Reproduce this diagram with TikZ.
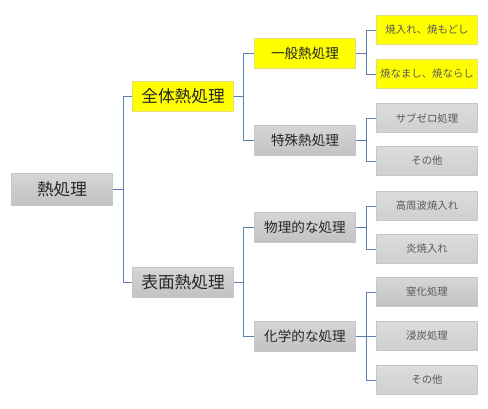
\documentclass[tikz,border=0pt]{standalone}
\usepackage{fontspec}
\setmainfont{Noto Sans CJK JP}
\definecolor{lineblue}{HTML}{5B7FB5}
\definecolor{greytop}{HTML}{D6D6D6}
\definecolor{greybot}{HTML}{C2C2C2}
\definecolor{leaftop}{HTML}{DCDCDC}
\definecolor{leafbot}{HTML}{CFCFCF}
\definecolor{hlyellow}{HTML}{FFFF00}
\tikzset{
  box/.style={minimum width=76pt, minimum height=22.5pt, inner sep=0pt,
    draw=black!22, line width=0.4pt, text=black!85},
  greybox/.style={box, top color=greytop, bottom color=greybot},
  yellowbox/.style={box, fill=hlyellow, draw=yellow!80!black!60},
  big/.style={font=\fontsize{12.5}{14}\selectfont},
  mid/.style={font=\fontsize{10.2}{12}\selectfont},
  small/.style={font=\fontsize{7.8}{9}\selectfont, text=black!65,
    minimum height=21.5pt},
  leafgrey/.style={greybox, small, top color=leaftop, bottom color=leafbot},
  leafyellow/.style={yellowbox, small},
  branch/.style={draw=lineblue, line width=0.6pt}
}
\begin{document}
\begin{tikzpicture}[x=0.75pt,y=-0.75pt]
    \useasboundingbox (0,0) rectangle (488,408);

    % root and first level
    \node[greybox, big, minimum height=24pt] (root) at (62,189) {熱処理};
    \node[yellowbox, big] (zentai) at (183,96) {全体熱処理};
    \node[greybox, big] (hyomen) at (183,282) {表面熱処理};

    % second level
    \node[yellowbox, mid] (ippan) at (305,53) {一般熱処理};
    \node[greybox, mid] (tokushu) at (305,140) {特殊熱処理};
    \node[greybox, mid] (butsuri) at (305,227) {物理的な処理};
    \node[greybox, mid] (kagaku) at (305,336) {化学的な処理};

    % leaves
    \node[leafyellow] (yakiire) at (427,30) {焼入れ、焼もどし};
    \node[leafyellow] (yakinama) at (427,74) {焼なまし、焼ならし};
    \node[leafgrey] (subzero) at (427,118) {サブゼロ処理};
    \node[leafgrey] (sonota1) at (427,161) {その他};
    \node[leafgrey] (koshuha) at (427,206) {高周波焼入れ};
    \node[leafgrey] (hono) at (427,249) {炎焼入れ};
    \node[greybox, small, top color=greytop, bottom color=greybot] (chikka) at (427,292) {窒化処理};
    \node[leafgrey] (shintan) at (427,336) {浸炭処理};
    \node[leafgrey] (sonota2) at (427,380) {その他};

    % connectors
    \foreach \child in {zentai, hyomen}
        \draw[branch] (root.east) -- ++(10,0) |- (\child.west);
    \foreach \child in {ippan, tokushu}
        \draw[branch] (zentai.east) -- ++(9,0) |- (\child.west);
    \foreach \child in {butsuri, kagaku}
        \draw[branch] (hyomen.east) -- ++(9,0) |- (\child.west);
    \foreach \child in {yakiire, yakinama}
        \draw[branch] (ippan.east) -- ++(10,0) |- (\child.west);
    \foreach \child in {subzero, sonota1}
        \draw[branch] (tokushu.east) -- ++(10,0) |- (\child.west);
    \foreach \child in {koshuha, hono}
        \draw[branch] (butsuri.east) -- ++(10,0) |- (\child.west);
    \foreach \child in {chikka, shintan, sonota2}
        \draw[branch] (kagaku.east) -- ++(10,0) |- (\child.west);
\end{tikzpicture}
\end{document}
